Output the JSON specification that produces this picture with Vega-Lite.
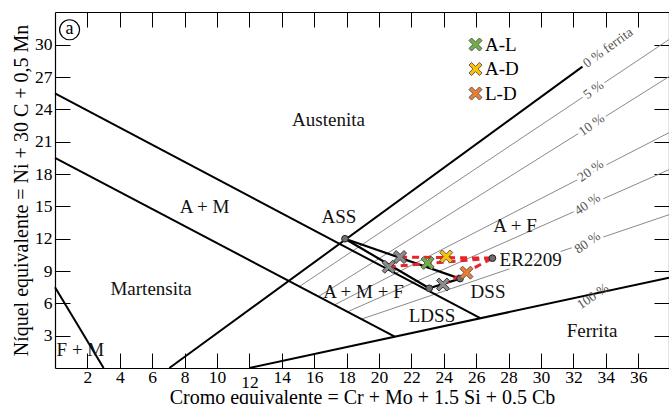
{
  "$schema": "https://vega.github.io/schema/vega-lite/v6.json",
  "width": 614,
  "height": 356,
  "autosize": {"type": "none"},
  "padding": {"left": 55, "top": 12, "right": 0, "bottom": 36},
  "background": "white",
  "config": {
    "view": {"stroke": null},
    "font": "Liberation Serif",
    "axis": {
      "grid": false,
      "domainColor": "black",
      "domainWidth": 1.2,
      "tickColor": "black",
      "tickWidth": 1,
      "labelFont": "Liberation Serif",
      "labelFontSize": 17.5,
      "labelColor": "black",
      "titleFont": "Liberation Serif",
      "titleFontSize": 20,
      "titleFontWeight": "normal",
      "titleColor": "black"
    },
    "legend": {"labelFont": "Liberation Serif"}
  },
  "datasets": {
    "thick": [
      {"id": "L1", "x": 0, "y": 25.5}, {"id": "L1", "x": 26.25, "y": 4.62},
      {"id": "L2", "x": 0, "y": 19.5}, {"id": "L2", "x": 21.0, "y": 2.9},
      {"id": "L3", "x": 0, "y": 7.5}, {"id": "L3", "x": 3.0, "y": 0},
      {"id": "L4", "x": 7.06, "y": 0}, {"id": "L4", "x": 32.56, "y": 27.98},
      {"id": "L5", "x": 12.0, "y": 0}, {"id": "L5", "x": 37.9, "y": 8.39}
    ],
    "thin": [
      {"id": "5", "x": 15.09, "y": 7.57}, {"id": "5", "x": 37.9, "y": 30.49},
      {"id": "10", "x": 16.27, "y": 6.64}, {"id": "10", "x": 37.9, "y": 27.05},
      {"id": "20", "x": 17.25, "y": 5.86}, {"id": "20", "x": 37.9, "y": 21.85},
      {"id": "40", "x": 18.06, "y": 5.22}, {"id": "40", "x": 37.9, "y": 18.41},
      {"id": "80", "x": 18.92, "y": 4.54}, {"id": "80", "x": 37.9, "y": 14.23}
    ],
    "regions": [
      {"t": "Austenita", "x": 16.88, "y": 23.0},
      {"t": "A + M", "x": 9.23, "y": 14.98},
      {"t": "Martensita", "x": 5.93, "y": 7.32},
      {"t": "F + M", "x": 1.57, "y": 1.7},
      {"t": "ASS", "x": 17.53, "y": 14.0},
      {"t": "A + F", "x": 28.4, "y": 13.2},
      {"t": "A + M + F", "x": 19.04, "y": 7.04},
      {"t": "LDSS", "x": 23.27, "y": 4.81},
      {"t": "DSS", "x": 26.73, "y": 7.04},
      {"t": "Ferrita", "x": 33.15, "y": 3.42}
    ],
    "iso": [
      {"t": "0 % ferrita", "x": 34.14, "y": 29.73},
      {"t": "5 %", "x": 33.24, "y": 25.8},
      {"t": "10 %", "x": 33.12, "y": 22.55},
      {"t": "20 %", "x": 33.06, "y": 18.3},
      {"t": "40 %", "x": 32.87, "y": 15.2},
      {"t": "80 %", "x": 32.87, "y": 11.62},
      {"t": "100 %", "x": 33.2, "y": 6.65}
    ],
    "ties": [
      {"id": "ASS-DSS", "x": 17.9, "y": 12.0, "x2": 25.0, "y2": 8.3},
      {"id": "ASS-LDSS", "x": 17.9, "y": 12.0, "x2": 23.1, "y2": 7.4},
      {"id": "LDSS-DSS", "x": 23.1, "y": 7.4, "x2": 25.0, "y2": 8.3}
    ],
    "dil": [
      {"id": "A-D", "x": 21.3, "y": 10.3, "x2": 27.0, "y2": 10.2},
      {"id": "A-L", "x": 20.6, "y": 9.4, "x2": 27.0, "y2": 10.2},
      {"id": "L-D", "x": 23.95, "y": 7.75, "x2": 27.0, "y2": 10.2}
    ],
    "metals": [
      {"m": "ASS", "x": 17.9, "y": 12.0},
      {"m": "LDSS", "x": 23.1, "y": 7.4},
      {"m": "DSS", "x": 25.0, "y": 8.3},
      {"m": "ER2209", "x": 27.0, "y": 10.2}
    ],
    "mids": [
      {"m": "A-D", "x": 21.3, "y": 10.3},
      {"m": "A-L", "x": 20.6, "y": 9.4},
      {"m": "L-D", "x": 23.95, "y": 7.75}
    ],
    "welds": [
      {"g": "A-L", "x": 23.0, "y": 9.75},
      {"g": "A-D", "x": 24.15, "y": 10.35},
      {"g": "L-D", "x": 25.4, "y": 8.85}
    ],
    "er": [{"t": "ER2209", "x": 27.44, "y": 10.06}],
    "tag": [{"t": "a", "x": 0.9, "y": 31.4}]
  },
  "layer": [
    {
      "data": {"name": "thin"},
      "mark": {"type": "line", "color": "#8a8a8a", "strokeWidth": 1},
      "encoding": {
        "x": {"field": "x", "type": "quantitative", "scale": {"domain": [0, 37.9], "nice": false},
          "axis": {"orient": "top", "values": [2,4,6,8,10,12,14,16,18,20,22,24,26,28,30,32,34,36], "labels": false, "title": null, "tickSize": -15}},
        "y": {"field": "y", "type": "quantitative", "scale": {"domain": [0, 33.05], "nice": false},
          "axis": {"orient": "right", "values": [3,6,9,12,15,18,21,24,27,30], "labels": false, "title": null, "tickSize": -15}},
        "detail": {"field": "id"}
      }
    },
    {
      "data": {"name": "thick"},
      "mark": {"type": "line", "color": "black", "strokeWidth": 2},
      "encoding": {
        "x": {"field": "x", "type": "quantitative",
          "axis": {"orient": "bottom", "values": [2,4,6,8,10,12,14,16,18,20,22,24,26,28,30,32,34,36], "tickSize": -15,
            "labelFont": "Liberation Serif", "labelFontSize": 17.5,
            "labelPadding": {"condition": {"test": "datum.value === 12", "value": 20.5}, "value": 15.5},
            "title": "Cromo equivalente = Cr + Mo + 1,5 Si + 0,5 Cb", "titleFont": "Liberation Serif", "titleBaseline": "alphabetic", "titleY": 35}},
        "y": {"field": "y", "type": "quantitative",
          "axis": {"orient": "left", "values": [3,6,9,12,15,18,21,24,27,30], "tickSize": -15, "labelPadding": 18,
            "labelFont": "Liberation Serif", "labelFontSize": 17.5,
            "title": "Níquel equivalente = Ni + 30 C + 0,5 Mn", "titleFont": "Liberation Serif", "titleBaseline": "alphabetic", "titleAngle": -90, "titleX": -28}},
        "detail": {"field": "id"}
      }
    },
    {
      "data": {"name": "regions"},
      "mark": {"type": "text", "font": "Liberation Serif", "fontSize": 19, "color": "#111", "baseline": "middle", "align": "center"},
      "encoding": {
        "x": {"field": "x", "type": "quantitative", "axis": null},
        "y": {"field": "y", "type": "quantitative", "axis": null},
        "text": {"field": "t"}
      }
    },
    {
      "data": {"name": "iso"},
      "transform": [{"filter": "datum.t !== '0 % ferrita' && datum.t !== '100 %'"}],
      "mark": {"type": "text", "font": "Liberation Serif", "fontSize": 13.5, "color": "white", "stroke": "white", "strokeWidth": 6, "baseline": "middle", "align": "center"},
      "encoding": {
        "x": {"field": "x", "type": "quantitative", "axis": null},
        "y": {"field": "y", "type": "quantitative", "axis": null},
        "text": {"field": "t"},
        "angle": {"field": "t", "type": "nominal", "legend": null,
          "scale": {"domain": ["0 % ferrita", "5 %", "10 %", "20 %", "40 %", "80 %", "100 %"], "range": [-36, -34, -32, -28, -26, -21, -13]}}
      }
    },
    {
      "data": {"name": "iso"},
      "mark": {"type": "text", "font": "Liberation Serif", "fontSize": 13.5, "color": "#555", "baseline": "middle", "align": "center"},
      "encoding": {
        "x": {"field": "x", "type": "quantitative", "axis": null},
        "y": {"field": "y", "type": "quantitative", "axis": null},
        "text": {"field": "t"},
        "angle": {"field": "t", "type": "nominal", "legend": null,
          "scale": {"domain": ["0 % ferrita", "5 %", "10 %", "20 %", "40 %", "80 %", "100 %"], "range": [-36, -34, -32, -28, -26, -21, -13]}}
      }
    },
    {
      "data": {"name": "er"},
      "mark": {"type": "text", "font": "Liberation Serif", "fontSize": 19, "color": "white", "stroke": "white", "strokeWidth": 5, "baseline": "middle", "align": "left"},
      "encoding": {
        "x": {"field": "x", "type": "quantitative", "axis": null},
        "y": {"field": "y", "type": "quantitative", "axis": null},
        "text": {"field": "t"}
      }
    },
    {
      "data": {"name": "er"},
      "mark": {"type": "text", "font": "Liberation Serif", "fontSize": 19, "color": "#111", "baseline": "middle", "align": "left"},
      "encoding": {
        "x": {"field": "x", "type": "quantitative", "axis": null},
        "y": {"field": "y", "type": "quantitative", "axis": null},
        "text": {"field": "t"}
      }
    },
    {
      "data": {"name": "ties"},
      "mark": {"type": "rule", "color": "black", "strokeWidth": 2.2},
      "encoding": {
        "x": {"field": "x", "type": "quantitative", "axis": null},
        "y": {"field": "y", "type": "quantitative", "axis": null},
        "x2": {"field": "x2"},
        "y2": {"field": "y2"}
      }
    },
    {
      "data": {"name": "dil"},
      "mark": {"type": "rule", "color": "#e8242b", "strokeWidth": 3, "strokeDash": [7, 5]},
      "encoding": {
        "x": {"field": "x", "type": "quantitative", "axis": null},
        "y": {"field": "y", "type": "quantitative", "axis": null},
        "x2": {"field": "x2"},
        "y2": {"field": "y2"}
      }
    },
    {
      "data": {"name": "metals"},
      "mark": {"type": "point", "shape": "circle", "filled": true, "size": 45, "color": "#6e6e6e", "stroke": "#222", "strokeWidth": 1, "opacity": 1},
      "encoding": {
        "x": {"field": "x", "type": "quantitative", "axis": null},
        "y": {"field": "y", "type": "quantitative", "axis": null}
      }
    },
    {
      "data": {"name": "mids"},
      "mark": {"type": "point", "shape": "M-1,-0.6L-0.6,-1L0,-0.4L0.6,-1L1,-0.6L0.4,0L1,0.6L0.6,1L0,0.4L-0.6,1L-1,0.6L-0.4,0Z", "filled": true, "size": 170, "color": "#8c8c8c", "stroke": "#3a3a3a", "strokeWidth": 1, "opacity": 1},
      "encoding": {
        "x": {"field": "x", "type": "quantitative", "axis": null},
        "y": {"field": "y", "type": "quantitative", "axis": null}
      }
    },
    {
      "data": {"name": "welds"},
      "mark": {"type": "point", "shape": "M-1,-0.6L-0.6,-1L0,-0.4L0.6,-1L1,-0.6L0.4,0L1,0.6L0.6,1L0,0.4L-0.6,1L-1,0.6L-0.4,0Z", "filled": true, "size": 170, "stroke": "#5a5a5a", "strokeWidth": 1, "opacity": 1},
      "encoding": {
        "x": {"field": "x", "type": "quantitative", "axis": null},
        "y": {"field": "y", "type": "quantitative", "axis": null},
        "color": {"field": "g", "type": "nominal",
          "scale": {"domain": ["A-L", "A-D", "L-D"], "range": ["#70ad47", "#ffc000", "#ed7d31"]},
          "legend": {"orient": "none", "legendX": 411, "legendY": 23, "title": null, "padding": 0,
            "symbolType": "M-1,-0.6L-0.6,-1L0,-0.4L0.6,-1L1,-0.6L0.4,0L1,0.6L0.6,1L0,0.4L-0.6,1L-1,0.6L-0.4,0Z",
            "symbolSize": 170, "symbolStrokeColor": "#5a5a5a", "symbolStrokeWidth": 1, "symbolOpacity": 1,
            "labelFont": "Liberation Serif", "labelFontSize": 19, "labelColor": "black", "labelOffset": 0, "rowPadding": 4.5}}
      }
    },
    {
      "data": {"name": "tag"},
      "mark": {"type": "point", "shape": "circle", "filled": false, "size": 400, "color": "black", "strokeWidth": 1.2, "opacity": 1},
      "encoding": {
        "x": {"field": "x", "type": "quantitative", "axis": null},
        "y": {"field": "y", "type": "quantitative", "axis": null}
      }
    },
    {
      "data": {"name": "tag"},
      "mark": {"type": "text", "font": "Liberation Serif", "fontSize": 18, "color": "black", "baseline": "middle", "align": "center", "dy": -1},
      "encoding": {
        "x": {"field": "x", "type": "quantitative", "axis": null},
        "y": {"field": "y", "type": "quantitative", "axis": null},
        "text": {"field": "t"}
      }
    }
  ],
  "resolve": {"axis": {"x": "independent", "y": "independent"}}
}
